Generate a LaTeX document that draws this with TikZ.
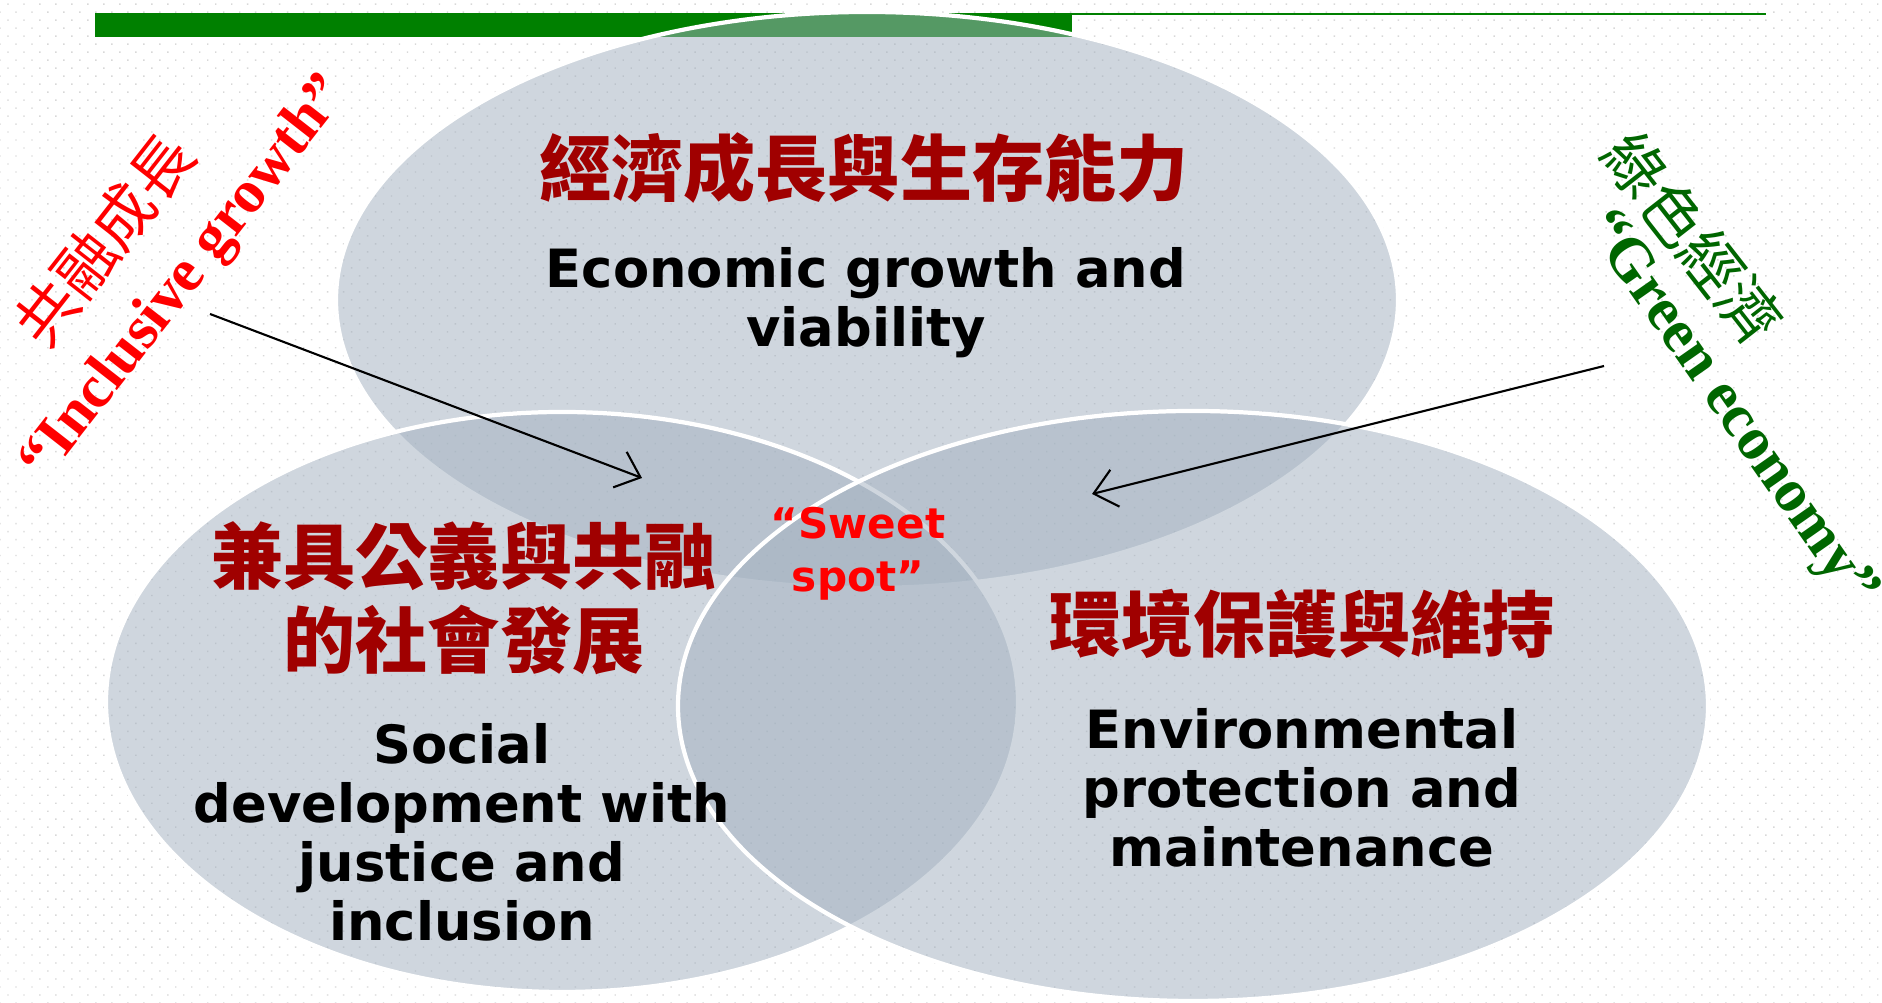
\documentclass[tikz,border=0pt]{standalone}
\usepackage{fontspec}
\setmainfont{Liberation Serif}
\newfontfamily\cjk{Noto Sans CJK TC}
\newfontfamily\verd{DejaVu Sans}
\usetikzlibrary{arrows.meta,patterns.meta,shapes.geometric}
\definecolor{spherefill}{RGB}{163,177,192}
\definecolor{titlered}{RGB}{160,0,0}
\definecolor{bargreen}{RGB}{0,128,0}
\definecolor{ecogreen}{RGB}{0,102,0}
\definecolor{dotgray}{RGB}{216,216,216}

\begin{document}
\begin{tikzpicture}[>={Straight Barb[length=2.2mm,width=3.8mm]},
  sphere/.style={ellipse, inner sep=0pt, fill=spherefill, fill opacity=0.52,
    draw=white, line width=1.2pt},
  zhtitle/.style={text=titlered, align=center,
    font=\cjk\bfseries\fontsize{20.5}{24}\selectfont},
  entitle/.style={align=center, font=\verd\bfseries\fontsize{15}{16.8}\selectfont},
  slogan/.style={inner sep=0pt, font=\bfseries\fontsize{17.3}{20}\selectfont},
  zhslogan/.style={inner sep=0pt, font=\cjk\fontsize{17.5}{20}\selectfont},
  pointer/.style={->, line width=0.6pt}]
  \useasboundingbox (0,0) rectangle (18.82,10.03);
  \fill[white] (0,0) rectangle (18.82,10.03);
  \fill[pattern={Dots[distance=1.13mm,radius=0.1mm,angle=45]},
    pattern color=dotgray] (0,0) rectangle (18.82,10.03);
  \fill[bargreen] (0.95,9.66) rectangle (10.72,9.90);
  \draw[bargreen, line width=0.6pt] (10.72,9.89) -- (17.66,9.89);

  \node[sphere, minimum width=10.62cm, minimum height=5.76cm] (growth) at (8.67,7.03) {};
  \node[sphere, minimum width=9.12cm, minimum height=5.80cm] (society) at (5.62,3.01) {};
  \node[sphere, minimum width=10.30cm, minimum height=5.90cm] (ecology) at (11.93,2.97) {};

  \node[zhtitle] (growth-zh) at (8.64,8.35) {經濟成長與生存能力};
  \node[entitle] (growth-en) at (8.66,7.00) {Economic growth and\\viability};
  \node[zhtitle] (society-zh) at (4.64,4.05) {兼具公義與共融\\的社會發展};
  \node[entitle] (society-en) at (4.62,1.71) {Social\\development with\\justice and\\inclusion};
  \node[zhtitle] (ecology-zh) at (13.02,3.79) {環境保護與維持};
  \node[entitle] (ecology-en) at (13.02,2.15) {Environmental\\protection and\\maintenance};
  \node[text=red, align=center, font=\verd\bfseries\fontsize{12}{15}\selectfont]
    (sweet) at (8.58,4.49) {“Sweet\\spot”};

  \node[zhslogan, text=red, rotate=52] (inclusive-zh) at (1.04,7.63) {共融成長};
  \node[slogan, text=red, rotate=52] (inclusive-en) at (1.86,7.24) {“Inclusive growth”};
  \node[zhslogan, text=ecogreen, rotate=-52] (green-zh) at (16.93,7.65) {綠色經濟};
  \node[slogan, text=ecogreen, rotate=-55] (green-en) at (17.29,5.93) {“Green economy”};

  \coordinate (inclusive-tail) at (2.10,6.89);
  \coordinate (inclusive-head) at (6.42,5.25);
  \coordinate (green-tail) at (16.04,6.37);
  \coordinate (green-head) at (10.92,5.09);
  \draw[pointer] (inclusive-tail) -- (inclusive-head);
  \draw[pointer] (green-tail) -- (green-head);
\end{tikzpicture}
\end{document}
